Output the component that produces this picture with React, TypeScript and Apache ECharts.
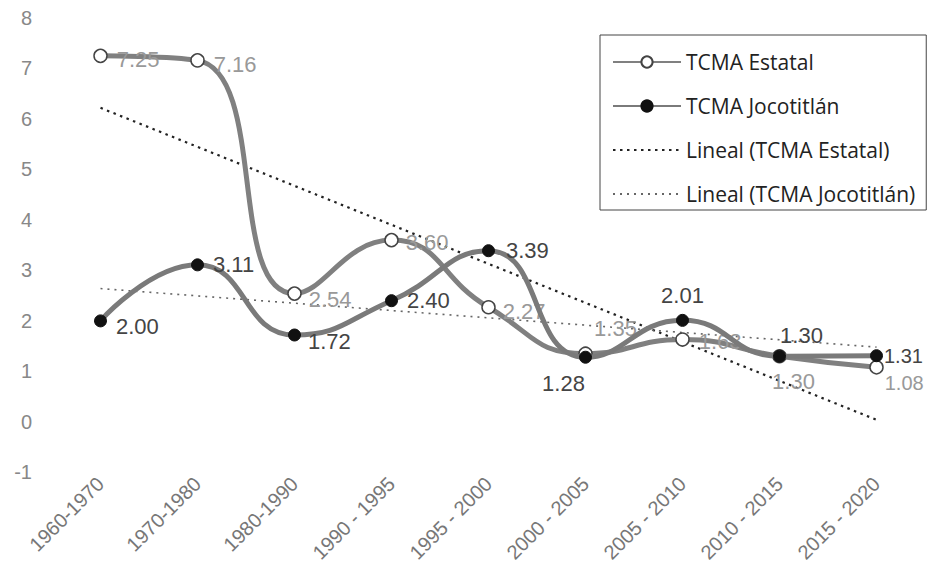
import React, { useEffect, useRef } from 'react';
import * as echarts from 'echarts';

const categories = ['1960-1970', '1970-1980', '1980-1990', '1990 - 1995', '1995 - 2000', '2000 - 2005', '2005 - 2010', '2010 - 2015', '2015 - 2020'];
const estatal = [7.25, 7.16, 2.54, 3.6, 2.27, 1.35, 1.63, 1.3, 1.08];
const jocotitlan = [2.0, 3.11, 1.72, 2.4, 3.39, 1.28, 2.01, 1.3, 1.31];
const trendEstatalEnds = [6.22, 0.04];
const trendJocotitlanEnds = [2.64, 1.48];
const seriesNames = ['TCMA Estatal', 'TCMA Jocotitlán', 'Lineal (TCMA Estatal)', 'Lineal (TCMA Jocotitlán)'];

const estatalLabelCfg: any[] = [
  { position: 'right', offset: [4, 4] },
  { position: 'right', offset: [4, 4] },
  { position: 'right', offset: [2, 6] },
  { position: 'right', offset: [2, 2] },
  { position: 'right', offset: [2, 4] },
  { position: 'top', offset: [30, -2] },
  { position: 'right', offset: [4, 2] },
  { position: 'bottom', offset: [14, 2] },
  { position: 'right', offset: [-4, 16], fontSize: 20 },
];
const jocoLabelCfg: any[] = [
  { position: 'right', offset: [4, 6] },
  { position: 'right', offset: [4, 0] },
  { position: 'right', offset: [2, 6] },
  { position: 'right', offset: [4, 0] },
  { position: 'right', offset: [6, 0] },
  { position: 'bottom', offset: [-22, 4] },
  { position: 'top', offset: [0, -2] },
  { position: 'top', offset: [22, 2] },
  { position: 'right', offset: [-4, 0], fontSize: 20 },
];

const labelFont = 'Liberation Sans, Arial, sans-serif';

export default function App() {
  const ref = useRef<HTMLDivElement>(null);
  useEffect(() => {
    const chart = echarts.init(ref.current!, null, { renderer: 'svg' });
    const fmt = (p: any) => Number(Array.isArray(p.value) ? p.value[1] : p.value).toFixed(2);
    const option: any = {
      animation: false,
      backgroundColor: '#fff',
      grid: { left: 52, right: 10, top: 18, bottom: 80 },
      legend: {
        orient: 'vertical',
        left: 600,
        top: 35,
        data: [
          { name: seriesNames[0] },
          { name: seriesNames[1] },
          { name: seriesNames[2], itemStyle: { opacity: 0 } },
          { name: seriesNames[3], itemStyle: { opacity: 0 } },
        ],
        itemWidth: 68,
        itemHeight: 14,
        itemGap: 22,
        padding: [16, 11, 5, 12],
        borderColor: '#444',
        borderWidth: 1,
        textStyle: { fontFamily: 'Open Sans', fontSize: 21, color: '#222', lineHeight: 22 },
      },
      xAxis: {
        type: 'category',
        data: categories,
        boundaryGap: true,
        axisLine: { show: true, onZero: true, lineStyle: { color: 'rgba(0,0,0,0)' } },
        axisTick: { show: false },
        axisLabel: { rotate: 45, margin: 8, fontSize: 20, color: '#777', fontFamily: labelFont, interval: 0 },
        splitLine: { show: false },
      },
      yAxis: {
        type: 'value',
        min: -1,
        max: 8,
        interval: 1,
        axisLine: { show: false },
        axisTick: { show: false },
        splitLine: { show: false },
        axisLabel: { margin: 20, fontSize: 20, color: '#888', fontFamily: labelFont },
      },
      series: [
        {
          name: seriesNames[0],
          type: 'line',
          smooth: 0.5,
          data: estatal.map((v, i) => ({ value: v, label: estatalLabelCfg[i] })),
          symbol: 'circle',
          symbolSize: 13,
          lineStyle: { color: '#808080', width: 5 },
          itemStyle: { color: '#ffffff', borderColor: '#444', borderWidth: 1.5 },
          label: { show: true, formatter: fmt, fontSize: 22, color: '#999', fontFamily: labelFont },
          z: 2,
        },
        {
          name: seriesNames[1],
          type: 'line',
          smooth: 0.5,
          data: jocotitlan.map((v, i) => ({ value: v, label: jocoLabelCfg[i] })),
          symbol: 'circle',
          symbolSize: 12,
          lineStyle: { color: '#7a7a7a', width: 5 },
          itemStyle: { color: '#111', borderColor: '#111', borderWidth: 1 },
          label: { show: true, formatter: fmt, fontSize: 22, color: '#444', fontFamily: labelFont },
          z: 3,
        },
        {
          name: seriesNames[2],
          type: 'line',
          data: [[0, trendEstatalEnds[0]], [categories.length - 1, trendEstatalEnds[1]]],
          symbol: 'none',
          lineStyle: { color: '#222', width: 2.2, type: [2.5, 4.5] },
          itemStyle: { color: '#222' },
          z: 1,
        },
        {
          name: seriesNames[3],
          type: 'line',
          data: [[0, trendJocotitlanEnds[0]], [categories.length - 1, trendJocotitlanEnds[1]]],
          symbol: 'none',
          lineStyle: { color: '#666', width: 1.6, type: [2, 5] },
          itemStyle: { color: '#666' },
          z: 1,
        },
      ],
    };
    chart.setOption(option);
    return () => chart.dispose();
  }, []);
  return (
    <div
      ref={ref}
      style={{ position: 'fixed', left: 0, top: 0, width: 935, height: 565, background: '#fff' }}
    />
  );
}
